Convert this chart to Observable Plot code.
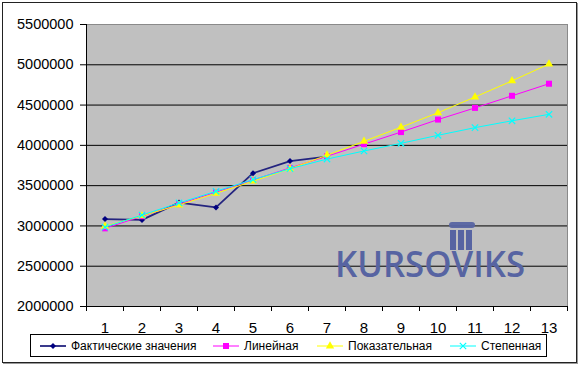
<!DOCTYPE html>
<html><head><meta charset="utf-8">
<script src="https://cdn.jsdelivr.net/npm/d3@7"></script>
<script src="https://cdn.jsdelivr.net/npm/@observablehq/plot@0.6"></script>
<style>
body{margin:0;background:#fff;}
#wrap{position:relative;width:580px;height:366px;overflow:hidden;font-family:Arial,"Liberation Sans",sans-serif;}
#border{position:absolute;left:2px;top:2px;width:575px;height:361px;box-sizing:border-box;border:1px solid #222;box-shadow:1px 1px 0 #999;}
#chart{position:absolute;left:0;top:0;}
#wm{position:absolute;left:0;top:0;pointer-events:none;}
#legend{position:absolute;left:30px;top:334px;width:517px;height:23px;box-sizing:border-box;border:1px solid #000;background:#fff;}
.item{position:absolute;top:0;height:21px;display:flex;align-items:center;font-size:12px;color:#000;white-space:nowrap;}
.item svg{margin-right:5px;}
</style></head>
<body>
<div id="wrap">
  <div id="border"></div>
  <div id="chart"></div>
  <svg id="wm" width="580" height="366"></svg>
  <div id="legend"></div>
</div>
<script>
const categories = [1,2,3,4,5,6,7,8,9,10,11,12,13];
const yTicks = [2000000,2500000,3000000,3500000,4000000,4500000,5000000,5500000];
const seriesNames = ["Фактические значения","Линейная","Показательная","Степенная"];
const actual = [3085000,3075000,3290000,3230000,3655000,3805000,3860000];
const linear = [2970000,3120000,3270000,3420000,3570000,3720000,3865000,4015000,4165000,4320000,4465000,4615000,4765000];
const exponential = [2995000,3125000,3260000,3405000,3555000,3710000,3878000,4050000,4225000,4405000,4600000,4800000,5010000];
const power = [2985000,3135000,3285000,3430000,3575000,3710000,3830000,3930000,4025000,4125000,4220000,4305000,4385000];
const watermark = "KURSOVIKS";

const styles = [
  {stroke:"#24247f", strokeWidth:1.8, symbol:"diamond2", r:2.7, fill:"#000080"},
  {stroke:"#ff00ff", strokeWidth:1, symbol:"square", r:3.4, fill:"#ff00ff"},
  {stroke:"#ffff00", strokeWidth:1, symbol:"triangle", r:3.1, fill:"#ffff00"},
  {stroke:"#00ffff", strokeWidth:1, symbol:"times", r:3, fill:"none"}
];
const allSeries = [actual, linear, exponential, power];
const tables = allSeries.map(vals => vals.map((v,i) => ({x: categories[i], y: v})));
const bounds = [categories[0]-0.5, ...categories.map(c => c+0.5)];

const marks = [
  Plot.frame({fill:"#c0c0c0", stroke:"#8a8a8a"}),
  Plot.ruleY(yTicks.slice(1,-1), {stroke:"#000", strokeWidth:1}),
  Plot.axisY({ticks:yTicks, label:null, tickSize:6, tickPadding:7, tickFormat:d=>String(d), fontSize:14.5, stroke:"#000", fill:"#000"}),
  Plot.axisX({ticks:bounds, label:null, tickSize:5, tickFormat:()=>"", stroke:"#000"}),
  Plot.axisX({ticks:categories, label:null, tickSize:0, tickPadding:16, tickFormat:d=>String(d), fontSize:15, fill:"#000"}),
  Plot.ruleX([bounds[0]], {stroke:"#000"}),
  Plot.ruleY([yTicks[0]], {stroke:"#000"})
];
tables.forEach((t,k) => {
  const s = styles[k];
  marks.push(Plot.line(t, {x:"x", y:"y", stroke:s.stroke, strokeWidth:s.strokeWidth}));
  if (s.symbol === "times") {
    marks.push(Plot.dot(t, {x:"x", y:"y", symbol:"times", r:s.r, stroke:s.stroke, strokeWidth:1.2}));
  } else {
    marks.push(Plot.dot(t, {x:"x", y:"y", symbol:s.symbol, r:s.r, fill:s.fill, stroke:"none"}));
  }
});

const chart = Plot.plot({
  width:580, height:366,
  marginLeft:86, marginRight:13, marginTop:24, marginBottom:60,
  x:{type:"linear", domain:[bounds[0], bounds[bounds.length-1]], axis:null, label:null},
  y:{domain:[yTicks[0], yTicks[yTicks.length-1]], axis:null, label:null},
  style:{background:"transparent", fontFamily:"Arial, 'Liberation Sans', sans-serif", color:"#000"},
  marks
});
document.getElementById("chart").appendChild(chart);

// watermark
const wm = d3.select("#wm");
const wc = "#5764a2";
wm.append("rect").attr("x",449).attr("y",222).attr("width",26).attr("height",6).attr("rx",3).attr("fill",wc).attr("opacity",0.95);
[450,458,466].forEach(bx => wm.append("rect").attr("x",bx).attr("y",230).attr("width",6).attr("height",20).attr("fill",wc));
wm.append("text").attr("x",335).attr("y",277).attr("textLength",190).attr("lengthAdjust","spacingAndGlyphs")
  .attr("font-family","'Open Sans', sans-serif").attr("font-weight",600).attr("font-size",36).attr("fill",wc).text(watermark);

// legend
const legend = document.getElementById("legend");
const lefts = [9, 182, 286, 419];
seriesNames.forEach((name,k) => {
  const s = styles[k];
  const div = document.createElement("div");
  div.className = "item";
  div.style.left = lefts[k] + "px";
  const svg = d3.create("svg").attr("width",26).attr("height",12);
  svg.append("line").attr("x1",0).attr("x2",26).attr("y1",6).attr("y2",6).attr("stroke",s.stroke).attr("stroke-width",s.strokeWidth);
  const symMap = {diamond2:d3.symbolDiamond2, square:d3.symbolSquare, triangle:d3.symbolTriangle, times:d3.symbolTimes};
  const p = d3.symbol(symMap[s.symbol], s.r*s.r*Math.PI)();
  const path = svg.append("path").attr("d",p).attr("transform","translate(13,6)");
  if (s.symbol === "times") path.attr("fill","none").attr("stroke",s.stroke).attr("stroke-width",1.2);
  else path.attr("fill",s.fill);
  div.appendChild(svg.node());
  const span = document.createElement("span");
  span.textContent = name;
  div.appendChild(span);
  legend.appendChild(div);
});
</script>
</body></html>
